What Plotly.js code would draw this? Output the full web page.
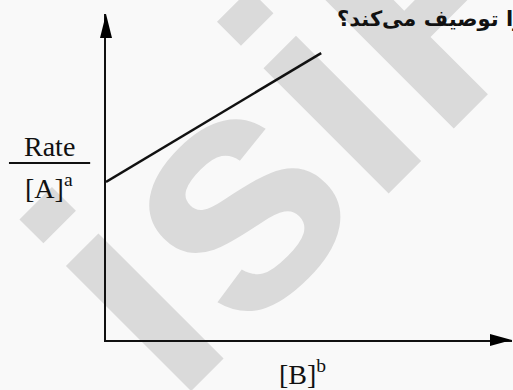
<!DOCTYPE html>
<html>
<head>
<meta charset="utf-8">
<script src="https://cdn.plot.ly/plotly-3.0.1.min.js"></script>
<style>
  html, body { margin: 0; padding: 0; background: #f9f9f9; }
  #chart { width: 513px; height: 390px; }
</style>
</head>
<body>
<div id="chart"></div>
<script>
// Data (arbitrary units, axes run 0..10)
const bPower = [0, 5.3];        // [B]^b
const rateOverA = [4.85, 8.8];  // Rate / [A]^a

const xRange = [0, 10];
const yRange = [0, 10];

const questionText = "را توصیف می‌کند؟";
const watermarkText = "isiP";

const serif = "Liberation Serif, Times New Roman, serif";

/* ---------- traces ---------- */

const lineTrace = {
  x: bPower,
  y: rateOverA,
  type: "scatter",
  mode: "lines",
  line: { color: "#111", width: 2.5 },
  hoverinfo: "skip",
  cliponaxis: false,
};

/* ---------- decorations ---------- */

// arrow heads at the ends of both axes, sized in pixels
const arrowHeads = [
  {
    type: "path",
    xref: "paper", yref: "paper",
    xsizemode: "pixel", ysizemode: "pixel",
    xanchor: 1, yanchor: 0,
    path: "M0,0L-22,6L-22,-6Z",
    fillcolor: "#000", line: { width: 0 },
  },
  {
    type: "path",
    xref: "paper", yref: "paper",
    xsizemode: "pixel", ysizemode: "pixel",
    xanchor: 0, yanchor: 1,
    path: "M0,0L6,-24L-6,-24Z",
    fillcolor: "#000", line: { width: 0 },
  },
];

// fraction bar under "Rate"
const fractionBar = {
  type: "line",
  xref: "paper", yref: "paper",
  x0: -0.239, x1: -0.039, y0: 0.543, y1: 0.543,
  line: { color: "#111", width: 2 },
};

// big grey watermark behind the plot
const watermark = {
  type: "rect",
  layer: "below",
  xref: "paper", yref: "paper",
  x0: 0.33, x1: 0.53, y0: 0.66, y1: 0.86,
  fillcolor: "rgba(0,0,0,0)",
  line: { width: 0 },
  label: {
    text: watermarkText,
    textangle: -45,
    textposition: "middle center",
    font: { family: "Liberation Sans, Arial, sans-serif", size: 335, color: "#dadada", weight: "bold" },
  },
};

/* ---------- labels ---------- */

const annotations = [
  {
    text: "Rate",
    xref: "paper", yref: "paper",
    x: -0.14, y: 0.595,
    xanchor: "center", yanchor: "middle",
    showarrow: false,
    font: { family: serif, size: 28, color: "#111" },
  },
  {
    text: "[A]<sup>a</sup>",
    xref: "paper", yref: "paper",
    x: -0.14, y: 0.472,
    xanchor: "center", yanchor: "middle",
    showarrow: false,
    font: { family: serif, size: 28, color: "#111" },
  },
  {
    text: "[B]<sup>b</sup>",
    xref: "paper", yref: "paper",
    x: 0.483, y: -0.1,
    xanchor: "center", yanchor: "middle",
    showarrow: false,
    font: { family: serif, size: 28, color: "#111" },
  },
  {
    text: "<b>" + questionText + "</b>",
    xref: "paper", yref: "paper",
    x: 0.564, y: 0.985,
    xanchor: "left", yanchor: "middle",
    showarrow: false,
    font: { family: "DejaVu Sans, sans-serif", size: 21, color: "#111" },
  },
];

const layout = {
  width: 513,
  height: 390,
  margin: { l: 106, r: 1, t: 14, b: 50 },
  paper_bgcolor: "#f9f9f9",
  plot_bgcolor: "#f9f9f9",
  showlegend: false,
  xaxis: {
    range: xRange,
    showline: true, linecolor: "#111", linewidth: 2,
    showgrid: false, zeroline: false, showticklabels: false, ticks: "",
    fixedrange: true,
  },
  yaxis: {
    range: yRange,
    showline: true, linecolor: "#111", linewidth: 2,
    showgrid: false, zeroline: false, showticklabels: false, ticks: "",
    fixedrange: true,
  },
  shapes: [watermark, fractionBar, ...arrowHeads],
  annotations: annotations,
};

Plotly.newPlot("chart", [lineTrace], layout, { displayModeBar: false, staticPlot: true });
</script>
</body>
</html>
